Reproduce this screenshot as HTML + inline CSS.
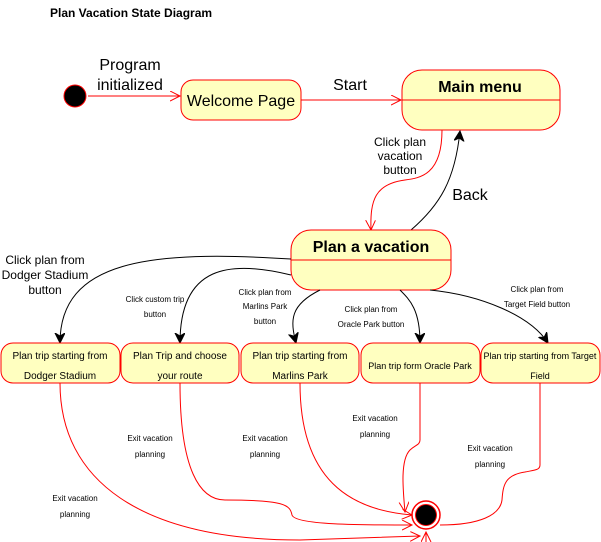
<!DOCTYPE html>
<html><head><meta charset="utf-8"><style>
html,body{margin:0;padding:0;background:#fff;}
svg{display:block;font-family:"Liberation Sans",Helvetica,Arial,sans-serif;}
</style></head><body>
<svg width="601" height="542" viewBox="0 0 601 542" xmlns="http://www.w3.org/2000/svg">
<defs>
<marker id="ro" markerWidth="12" markerHeight="12" refX="10" refY="5" orient="auto" markerUnits="userSpaceOnUse"><path d="M0,0 L10,5 L0,10" fill="none" stroke="#f00" stroke-width="1"/></marker>
<marker id="bk" markerWidth="12" markerHeight="12" refX="10" refY="5" orient="auto" markerUnits="userSpaceOnUse"><path d="M0,0 L10,5 L0,10 L3,5 Z" fill="#000" stroke="#000"/></marker>
</defs>
<text x="50" y="17" font-size="12" font-weight="bold">Plan Vacation State Diagram</text>

<circle cx="75" cy="96" r="11" fill="#000" stroke="#f00" stroke-width="1"/>
<line x1="88" y1="96" x2="180" y2="96" stroke="#f00" marker-end="url(#ro)"/>
<text x="130" y="70" font-size="16" text-anchor="middle">Program</text>
<text x="130" y="90" font-size="16" text-anchor="middle">initialized</text>

<rect x="181" y="80" width="120" height="40" rx="12" fill="#ffffc0" stroke="#f00"/>
<text x="241" y="106" font-size="16" text-anchor="middle">Welcome Page</text>
<line x1="301" y1="100" x2="401" y2="100" stroke="#f00" marker-end="url(#ro)"/>
<text x="350" y="90" font-size="16" text-anchor="middle">Start</text>

<rect x="402" y="70" width="158" height="60" rx="20" fill="#ffffc0" stroke="#f00"/>
<line x1="402" y1="100" x2="560" y2="100" stroke="#f00"/>
<text x="480" y="92" font-size="16" font-weight="bold" text-anchor="middle">Main menu</text>

<path d="M442,130 C442,175 420,178 405,180 C375,184 370,200 371,230" fill="none" stroke="#f00" marker-end="url(#ro)"/>
<text x="400" y="146" font-size="12" text-anchor="middle">Click plan</text>
<text x="400" y="160" font-size="12" text-anchor="middle">vacation</text>
<text x="400" y="174" font-size="12" text-anchor="middle">button</text>
<path d="M411,230 C440,205 455,180 460,131" fill="none" stroke="#000" marker-end="url(#bk)"/>
<text x="470" y="200" font-size="16" text-anchor="middle">Back</text>

<rect x="291" y="230" width="160" height="60" rx="20" fill="#ffffc0" stroke="#f00"/>
<line x1="291" y1="260" x2="451" y2="260" stroke="#f00"/>
<text x="371" y="252" font-size="16" font-weight="bold" text-anchor="middle">Plan a vacation</text>

<!-- black connectors -->
<path d="M291,259 C150,250 60,260 60,343" fill="none" stroke="#000" marker-end="url(#bk)"/>
<path d="M291,275 C230,260 180,265 180,343" fill="none" stroke="#000" marker-end="url(#bk)"/>
<path d="M320,290 C290,305 290,320 296,343" fill="none" stroke="#000" marker-end="url(#bk)"/>
<path d="M400,290 C410,300 420,310 420,343" fill="none" stroke="#000" marker-end="url(#bk)"/>
<path d="M430,290 C480,295 530,315 548,343" fill="none" stroke="#000" marker-end="url(#bk)"/>
<g font-size="12" text-anchor="middle">
<text x="45" y="264">Click plan from</text>
<text x="45" y="279">Dodger Stadium</text>
<text x="45" y="294">button</text>
</g>
<g font-size="8" text-anchor="middle">
<text x="155" y="302">Click custom trip</text>
<text x="155" y="317">button</text>
<text x="265" y="295">Click plan from</text>
<text x="265" y="309">Marlins Park</text>
<text x="265" y="324">button</text>
<text x="371" y="312">Click plan from</text>
<text x="371" y="327">Oracle Park button</text>
<text x="537" y="292">Click plan from</text>
<text x="537" y="307">Target Field button</text>
<text x="75" y="501">Exit vacation</text>
<text x="75" y="517">planning</text>
<text x="150" y="441">Exit vacation</text>
<text x="150" y="457">planning</text>
<text x="265" y="441">Exit vacation</text>
<text x="265" y="457">planning</text>
<text x="375" y="421">Exit vacation</text>
<text x="375" y="437">planning</text>
<text x="490" y="451">Exit vacation</text>
<text x="490" y="467">planning</text>
</g>

<g fill="#ffffc0" stroke="#f00">
<rect x="1" y="343" width="119" height="40" rx="12"/>
<rect x="121" y="343" width="118" height="40" rx="12"/>
<rect x="241" y="343" width="118" height="40" rx="12"/>
<rect x="361" y="343" width="119" height="40" rx="12"/>
<rect x="481" y="343" width="119" height="40" rx="12"/>
</g>
<g font-size="10" text-anchor="middle">
<text x="60" y="359">Plan trip starting from</text>
<text x="60" y="379">Dodger Stadium</text>
<text x="180" y="359">Plan Trip and choose</text>
<text x="180" y="379">your route</text>
<text x="300" y="359">Plan trip starting from</text>
<text x="300" y="379">Marlins Park</text>
<text x="420" y="369" font-size="9">Plan trip form Oracle Park</text>
<text x="540" y="359" font-size="9">Plan trip starting from Target</text>
<text x="540" y="379" font-size="9">Field</text>
</g>

<!-- red exits -->
<g fill="none" stroke="#f00">
<path d="M60,383 C60,480 140,540 300,540 L420,536" marker-end="url(#ro)"/>
<path d="M180,383 C180,470 200,500 225,500 C285,500 290,505 292,515 C295,525 360,525 412,525" marker-end="url(#ro)"/>
<path d="M300,383 C300,480 350,510 412,515" marker-end="url(#ro)"/>
<path d="M420,383 L420,440 C420,445 415,445 410,450 C400,460 403,490 405,512" marker-end="url(#ro)"/>
<path d="M540,383 L540,465 C540,470 535,470 525,472 C505,475 503,485 502,500 C500,515 480,525 440,525"/>
<path d="M426,542 L426,532" marker-end="url(#ro)"/>
</g>
<circle cx="426" cy="515" r="14" fill="#fff" stroke="#f00" stroke-width="1.5"/>
<circle cx="426" cy="515" r="10.5" fill="#000" stroke="#f00" stroke-width="1"/>
</svg>
</body></html>
